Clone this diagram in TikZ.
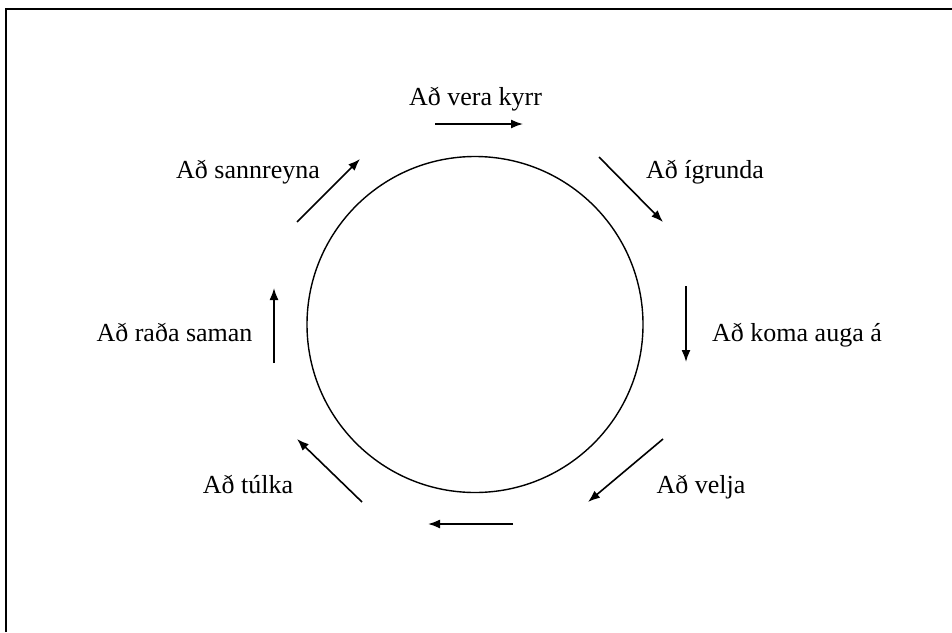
\documentclass[tikz,border=0pt]{standalone}
\usepackage{fontspec}
\setmainfont{Liberation Serif}
\usetikzlibrary{arrows.meta}
\begin{document}
\begin{tikzpicture}[x=1pt,y=-1pt,
  lbl/.style={anchor=base,inner sep=0pt,font=\fontsize{26}{31}\selectfont},
  arr/.style={line width=1.6pt,-{Latex[length=12pt,width=9pt]}},
  ring/.style={line width=1.4pt}]
\useasboundingbox (0,0) rectangle (952,632);
\draw[line width=2pt] (6,632) -- (6,9) -- (952,9);
\node[ring,draw,circle,minimum size=336pt,inner sep=0pt] (c) at (475,324.5) {};
% labels
\node[lbl] (l1) at (475.5,105) {Að vera kyrr};
\node[lbl] (l2) at (705,178) {Að ígrunda};
\node[lbl] (l3) at (797,341.5) {Að koma auga á};
\node[lbl] (l4) at (701,493) {Að velja};
\node[lbl] (l5) at (248,493) {Að túlka};
\node[lbl] (l6) at (174.5,341) {Að raða saman};
\node[lbl] (l7) at (248,178) {Að sannreyna};
% arrow end points
\coordinate (a1s) at (435,124);  \coordinate (a1e) at (523,124);
\coordinate (a2s) at (599,157);  \coordinate (a2e) at (663,222);
\coordinate (a3s) at (686,286);  \coordinate (a3e) at (686,362);
\coordinate (a4s) at (663,439);  \coordinate (a4e) at (588,502);
\coordinate (a5s) at (513,524);  \coordinate (a5e) at (428,524);
\coordinate (a6s) at (362,502);  \coordinate (a6e) at (297,439);
\coordinate (a7s) at (274,363);  \coordinate (a7e) at (274,288);
\coordinate (a8s) at (297,222);  \coordinate (a8e) at (360,159);
\foreach \i in {1,...,8} {\draw[arr] (a\i s) -- (a\i e);}
\end{tikzpicture}
\end{document}
